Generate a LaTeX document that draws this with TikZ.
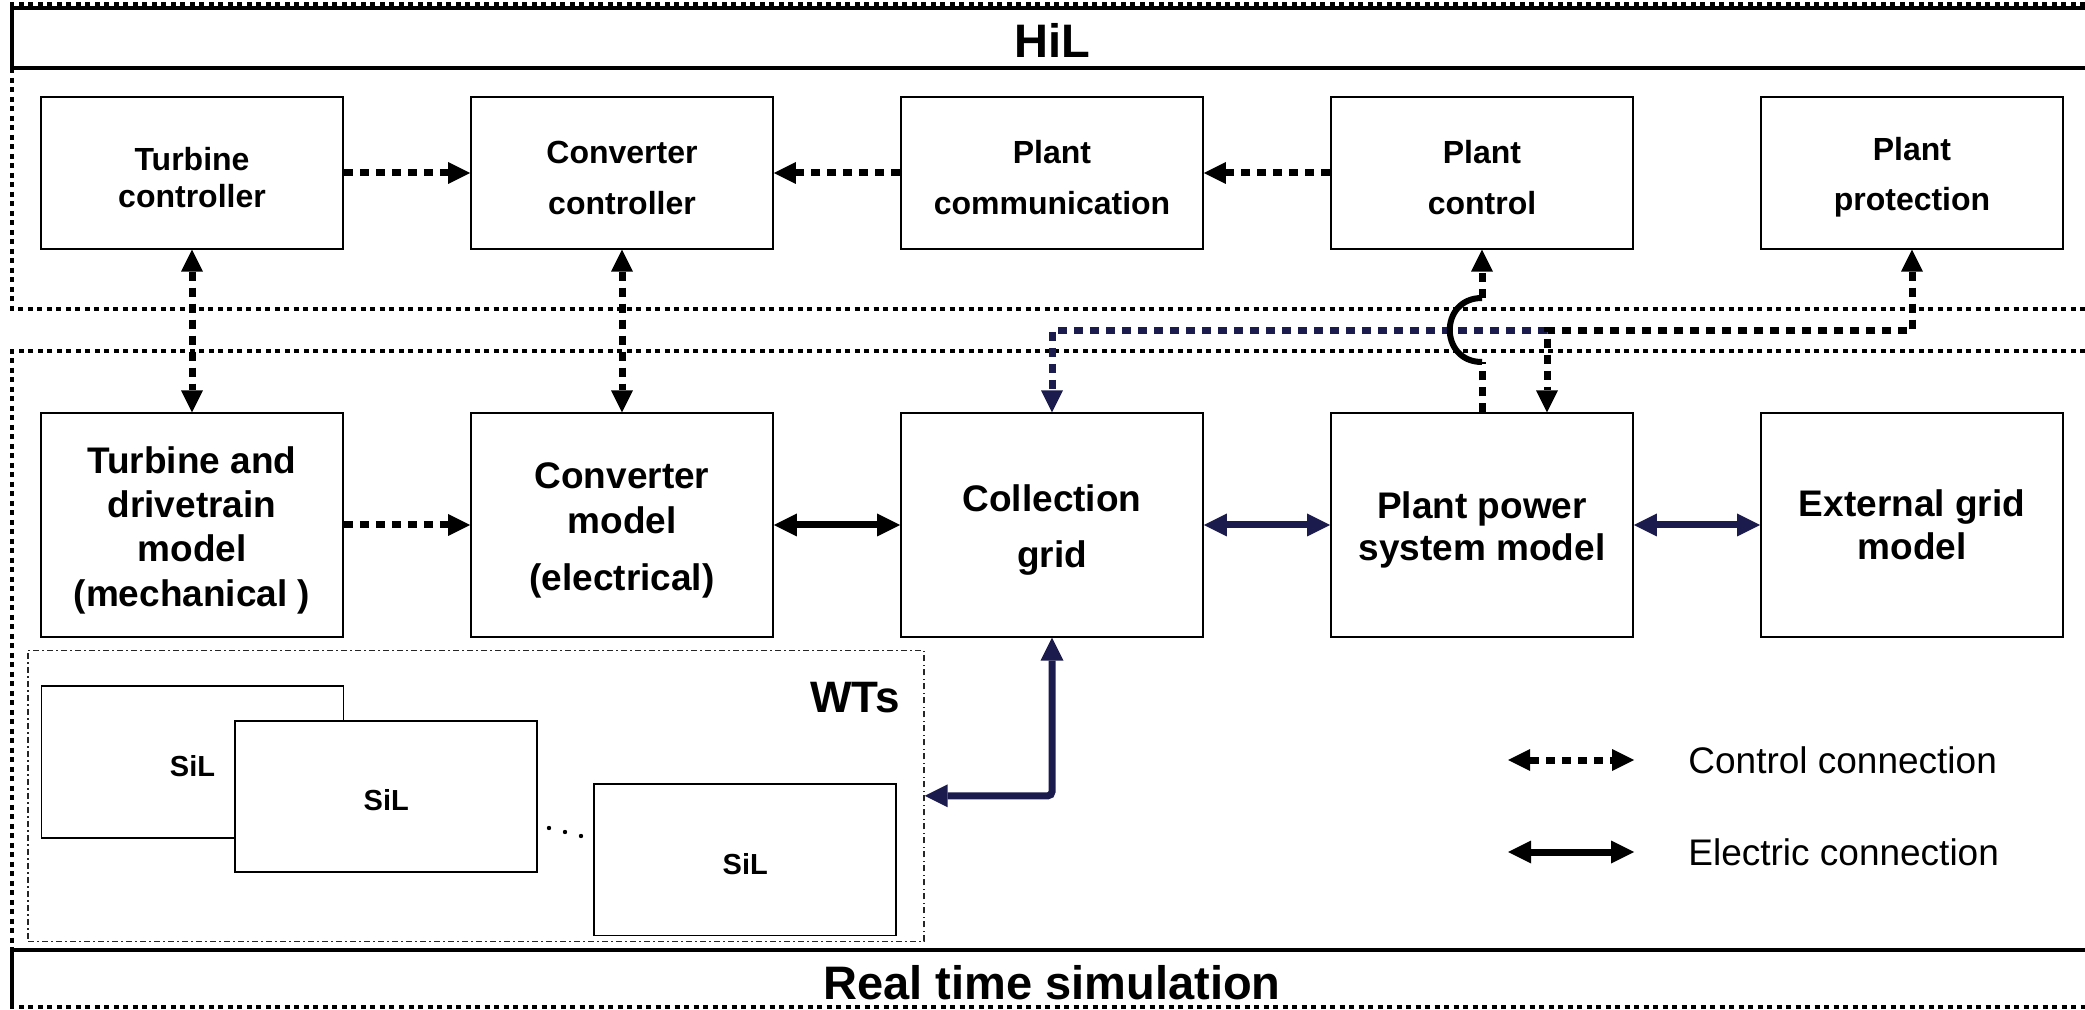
\documentclass[tikz,border=0pt]{standalone}
\usepackage{fontspec}
\setmainfont{Liberation Sans}
\usetikzlibrary{arrows.meta,calc}
\definecolor{navy}{RGB}{28,27,78}
% tall invisible strut on the first line, lowers the text block slightly
\newcommand{\boxstrut}{\rule{0pt}{1em}}

\tikzset{
  blk/.style={draw=black, line width=0.9pt, fill=white, minimum width=151pt, inner sep=0pt, align=center},
  ctlbox/.style={blk, minimum height=75.8pt, font=\fontsize{16}{25.25}\selectfont\bfseries},
  mdlbox/.style={blk, minimum height=111.7pt, font=\fontsize{18.5}{22.2}\selectfont\bfseries},
  silbox/.style={blk, minimum height=75.7pt, font=\fontsize{14.5}{17}\selectfont\bfseries},
  wtsframe/.style={draw=black!85, line width=0.65pt, dash pattern=on 3pt off 1.6pt on 0.8pt off 1.6pt,
    minimum width=448pt, minimum height=145.6pt, inner sep=0pt},
  zone/.style={line width=2pt, dash pattern=on 2.5pt off 2.25pt},
  bar/.style={line width=2.4pt},
  title/.style={inner sep=0pt, font=\fontsize{23.5}{28}\selectfont\bfseries},
  legendtxt/.style={inner sep=0pt, anchor=west, font=\fontsize{18.5}{22}\selectfont},
  ctrl/.style={line width=3.5pt, dash pattern=on 4.5pt off 3.5pt},
  elec/.style={line width=3.5pt},
  hopline/.style={line width=3pt},
  tipE/.style={-{Triangle[length=11pt,width=11pt,line width=0pt]}},
  tipB/.style={{Triangle[length=11pt,width=11pt,line width=0pt]}-{Triangle[length=11pt,width=11pt,line width=0pt]}},
  etipB/.style={{Triangle[length=11.5pt,width=11.5pt,line width=0pt]}-{Triangle[length=11.5pt,width=11.5pt,line width=0pt]}},
}

\begin{document}
\begin{tikzpicture}[x=0.5pt,y=-0.5pt]
\useasboundingbox (0,0) rectangle (2085,1010);
\clip (0,0) rectangle (2085,1010);

% dotted zone outlines: HiL (top) and real time simulation (bottom)
\draw[zone] (2085,4) -- (12,4) -- (12,309) -- (2085,309);
\draw[zone] (2085,351) -- (12,351) -- (12,1007) -- (2085,1007);

% title bars
\draw[bar] (2085,8) -- (12,8) -- (12,68) -- (2085,68);
\draw[bar] (2085,950) -- (12,950) -- (12,1007);
\node[title] (hil) at (1052,40) {HiL};
\node[title] (rts) at (1052,983) {Real time simulation};

% controllers (HiL)
\node[ctlbox, font=\fontsize{16}{18.5}\selectfont\bfseries] (tc) at (192,173) {\boxstrut Turbine\\controller};
\node[ctlbox] (cc) at (622,173) {\boxstrut Converter\\controller};
\node[ctlbox] (pcom) at (1052,173) {\boxstrut Plant\\communication};
\node[ctlbox] (pctl) at (1482,173) {\boxstrut Plant\\control};
\node[ctlbox] (prot) at (1912,173) {\boxstrut Plant\\protection};

% simulation models
\node[mdlbox] (tm) at (192,525) {\boxstrut Turbine and\\drivetrain\\model\\(mechanical )};
\node[mdlbox] (cm) at (622,525) {\boxstrut Converter\\model\\[6.5pt](electrical)};
\node[mdlbox, font=\fontsize{18.5}{28}\selectfont\bfseries] (cg) at (1052,525) {\boxstrut Collection\\grid};
\node[mdlbox, font=\fontsize{18.5}{21.3}\selectfont\bfseries] (pps) at (1482,525) {\boxstrut Plant power\\system model};
\node[mdlbox, font=\fontsize{18.5}{21.3}\selectfont\bfseries] (eg) at (1912,525) {External grid\\model};

% wind turbines group
\node[wtsframe] (wts) at (476,795.8) {};
\node[inner sep=0pt, font=\fontsize{22}{26}\selectfont\bfseries] (wtslbl) at (855,698) {WTs};
\node[silbox] (s1) at (192.5,762) {\boxstrut SiL};
\node[silbox] (s2) at (386.3,796.5) {\boxstrut SiL};
\node[silbox] (s3) at (745.3,859.7) {\boxstrut SiL};
\fill (549,828) circle (1.1pt) (565,832) circle (1.1pt) (581,836) circle (1.1pt);

% control connections
\draw[ctrl, tipE] (tc.east) -- (cc.west);
\draw[ctrl, tipE] (pcom.west) -- (cc.east);
\draw[ctrl, tipE] (pctl.west) -- (pcom.east);
\draw[ctrl, tipB] (tc.south) -- (tm.north);
\draw[ctrl, tipB] (cc.south) -- (cm.north);
\draw[ctrl, tipE] (tm.east) -- (cm.west);

% protection bus
\coordinate (busJ) at (1547,331);
\coordinate (busR) at (prot.south |- busJ);
\draw[ctrl, navy, tipE] (busJ) -| (cg.north);
\draw[ctrl, tipB] (prot.south) -- (busR) -- (busJ) -- (busJ |- pps.north);

% plant power system model to plant control, hopping over the bus
\coordinate (hopB) at (1482,362);
\coordinate (hopT) at (1482,298);
\draw[ctrl] (pps.north) -- (hopB);
\draw[hopline] (hopB) .. controls (1439,362) and (1439,298) .. (hopT);
\draw[ctrl, tipE] (hopT) -- (pctl.south);

% electric connections
\draw[elec, etipB] (cm.east) -- (cg.west);
\draw[elec, navy, etipB] (cg.east) -- (pps.west);
\draw[elec, navy, etipB] (pps.east) -- (eg.west);
\draw[elec, navy, etipB, rounded corners=2pt] (cg.south) |- (wts.east);

% legend
\coordinate (lc1) at (1508,760);
\coordinate (lc2) at (1634,760);
\coordinate (le1) at (1508,852);
\coordinate (le2) at (1634,852);
\draw[ctrl, tipB] (lc1) -- (lc2);
\draw[elec, etipB] (le1) -- (le2);
\node[legendtxt] (lctl) at (1688,760) {Control connection};
\node[legendtxt] (lele) at (1688,852) {Electric connection};
\end{tikzpicture}
\end{document}
